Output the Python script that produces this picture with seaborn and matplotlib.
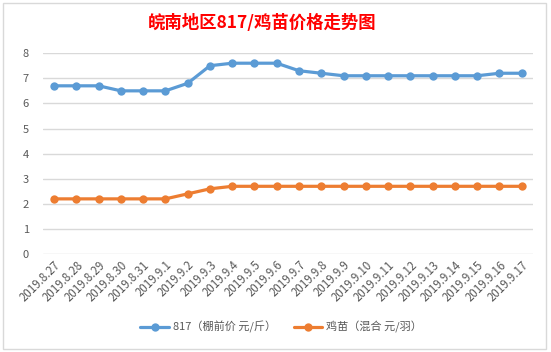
import matplotlib
matplotlib.use("Agg")
import matplotlib.pyplot as plt
import seaborn as sns
import pandas as pd
from matplotlib.patches import Rectangle

dates = ["2019.8.27", "2019.8.28", "2019.8.29", "2019.8.30", "2019.8.31",
         "2019.9.1", "2019.9.2", "2019.9.3", "2019.9.4", "2019.9.5", "2019.9.6",
         "2019.9.7", "2019.9.8", "2019.9.9", "2019.9.10", "2019.9.11", "2019.9.12",
         "2019.9.13", "2019.9.14", "2019.9.15", "2019.9.16", "2019.9.17"]
price_817 = [6.7, 6.7, 6.7, 6.5, 6.5, 6.5, 6.8, 7.5, 7.6, 7.6, 7.6,
             7.3, 7.2, 7.1, 7.1, 7.1, 7.1, 7.1, 7.1, 7.1, 7.2, 7.2]
price_chick = [2.2, 2.2, 2.2, 2.2, 2.2, 2.2, 2.4, 2.6, 2.7, 2.7, 2.7,
               2.7, 2.7, 2.7, 2.7, 2.7, 2.7, 2.7, 2.7, 2.7, 2.7, 2.7]
series_names = ["817（棚前价 元/斤）", "鸡苗（混合 元/羽）"]
colors = ["#5B9BD5", "#ED7D31"]
title = "皖南地区817/鸡苗价格走势图"

sns.set_theme(style="white")
plt.rcParams['font.family'] = ['Noto Sans CJK SC', 'DejaVu Sans']

df = pd.DataFrame({
    "date": dates * 2,
    "value": price_817 + price_chick,
    "series": [series_names[0]] * len(dates) + [series_names[1]] * len(dates),
})

fig = plt.figure(figsize=(5.51, 3.52), dpi=100)
fig.patch.set_facecolor("white")
ax = fig.add_axes([0.078, 0.278, 0.889, 0.571])

sns.lineplot(data=df, x="date", y="value", hue="series", palette=colors,
             sort=False, marker="o", markersize=6, markeredgewidth=0,
             linewidth=2.3, ax=ax, legend=True)

ax.set_xlim(-0.5, len(dates) - 0.5)
ax.set_ylim(0, 8)
ax.set_yticks(range(0, 9))
ax.grid(axis="y", color="#D9D9D9", linewidth=1)
ax.grid(axis="x", visible=False)
for s in ax.spines.values():
    s.set_visible(False)
ax.set_xlabel("")
ax.set_ylabel("")
ax.tick_params(axis="y", colors="#595959", labelsize=8, length=0, pad=10)
ax.tick_params(axis="x", colors="#595959", labelsize=8.3, length=0, pad=3)
for lab in ax.get_xticklabels():
    lab.set_rotation(45)
    lab.set_ha("right")
    lab.set_rotation_mode("anchor")

handles, labels = ax.get_legend_handles_labels()
ax.get_legend().remove()
fig.legend(handles, labels, loc="center", bbox_to_anchor=(0.51, 0.07), ncol=2,
           frameon=False, fontsize=8, labelcolor="#595959", handlelength=2.6,
           columnspacing=1.6, handletextpad=0.3)

fig.text(0.475, 0.935, title, ha="center", va="center", color="#FF0000",
         fontsize=12.5, fontweight="bold")

fig.patches.append(Rectangle((3 / 551, 3 / 352), 543 / 551, 346 / 352,
                             transform=fig.transFigure, fill=False,
                             edgecolor="#D9D9D9", linewidth=1))

fig.savefig("out.png", dpi=100, facecolor="white")
